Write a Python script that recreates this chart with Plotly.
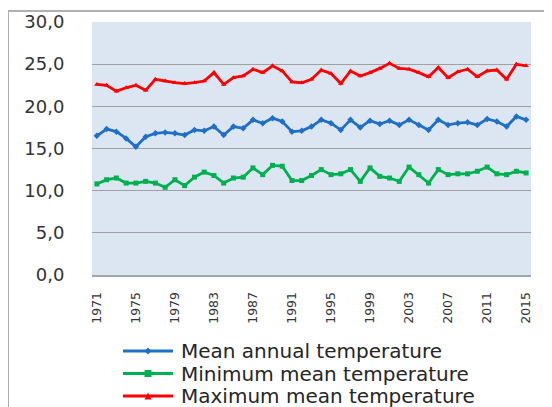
import plotly.graph_objects as go

years = list(range(1971, 2016))

mean_temp = [16.5, 17.3, 17.0, 16.2, 15.2, 16.4, 16.8, 16.9, 16.8, 16.6,
             17.2, 17.1, 17.6, 16.6, 17.6, 17.4, 18.4, 18.0, 18.6, 18.2,
             17.0, 17.1, 17.6, 18.4, 18.0, 17.2, 18.4, 17.5, 18.3, 17.9,
             18.3, 17.8, 18.4, 17.8, 17.2, 18.4, 17.8, 18.0, 18.1, 17.8,
             18.5, 18.2, 17.6, 18.8, 18.4]

min_temp = [10.8, 11.3, 11.5, 10.9, 10.9, 11.1, 10.9, 10.4, 11.3, 10.6,
            11.6, 12.2, 11.8, 10.9, 11.5, 11.6, 12.7, 11.9, 13.0, 12.9,
            11.2, 11.2, 11.8, 12.5, 11.9, 12.0, 12.5, 11.1, 12.7, 11.7,
            11.5, 11.1, 12.8, 11.9, 10.9, 12.5, 11.9, 12.0, 12.0, 12.3,
            12.8, 12.0, 11.9, 12.3, 12.1]

max_temp = [22.6, 22.5, 21.8, 22.2, 22.5, 21.9, 23.2, 23.0, 22.8, 22.7,
            22.8, 23.0, 24.0, 22.6, 23.4, 23.6, 24.4, 24.0, 24.8, 24.2,
            22.9, 22.8, 23.2, 24.3, 23.9, 22.7, 24.2, 23.6, 24.0, 24.5,
            25.1, 24.5, 24.4, 24.0, 23.5, 24.6, 23.4, 24.1, 24.4, 23.5,
            24.2, 24.3, 23.2, 25.0, 24.8]

series_names = ["Mean annual temperature", "Minimum mean temperature", "Maximum mean temperature"]
tick_years = list(range(1971, 2016, 4))
y_ticks = [0, 5, 10, 15, 20, 25, 30]

colors = ["#1f6fc6", "#00b050", "#ff0000"]
symbols = ["diamond", "square", "triangle-up"]

fig = go.Figure()
for name, vals, col, sym in zip(series_names, [mean_temp, min_temp, max_temp], colors, symbols):
    fig.add_trace(go.Scatter(
        x=years, y=vals, name=name, mode="lines+markers",
        line=dict(color=col, width=2.8),
        marker=dict(symbol=sym, size=5, color=col),
        showlegend=False,
    ))

# page has an 8px body margin, so work in page pixels and shift
OFF = 8
W, H = 552 - OFF, 407 - OFF
L, R, T, B = 92, 531, 22, 275          # plot area in page pixels
pw, ph = R - L, B - T

def px(x):
    return (x - L) / pw

def py(y):
    return (B - y) / ph

shapes = [
    dict(type="line", xref="paper", yref="paper",
         x0=px(8), x1=px(8), y0=py(11), y1=py(420),
         line=dict(color="#b0b0b0", width=2)),
    dict(type="line", xref="paper", yref="paper",
         x0=px(8), x1=px(570), y0=py(11), y1=py(11),
         line=dict(color="#b0b0b0", width=2)),
]
annotations = []

# manual legend
leg_y = [351, 373.5, 396]
lx0, lx1, tx = 123, 173, 179
for name, col, sym, yy in zip(series_names, colors, symbols, leg_y):
    shapes.append(dict(type="line", xref="paper", yref="paper",
                       x0=px(lx0), x1=px(lx1), y0=py(yy), y1=py(yy),
                       line=dict(color=col, width=3)))
    cx = (lx0 + lx1) / 2
    s = 3.5
    if sym == "square":
        shapes.append(dict(type="rect", xref="paper", yref="paper",
                           x0=px(cx - s), x1=px(cx + s), y0=py(yy - s), y1=py(yy + s),
                           fillcolor=col, line=dict(width=0)))
    elif sym == "diamond":
        path = "M {a},{b} L {c},{d} L {a},{e} L {f},{d} Z".format(
            a=px(cx), b=py(yy - s), c=px(cx + s), d=py(yy), e=py(yy + s), f=px(cx - s))
        shapes.append(dict(type="path", xref="paper", yref="paper", path=path,
                           fillcolor=col, line=dict(width=0)))
    else:
        path = "M {a},{b} L {c},{d} L {f},{d} Z".format(
            a=px(cx), b=py(yy - s), c=px(cx + s), d=py(yy + s), f=px(cx - s))
        shapes.append(dict(type="path", xref="paper", yref="paper", path=path,
                           fillcolor=col, line=dict(width=0)))
    annotations.append(dict(text=name, xref="paper", yref="paper",
                            x=px(tx), y=py(yy), xanchor="left", yanchor="middle",
                            showarrow=False,
                            font=dict(size=20, color="#262626", family="DejaVu Sans")))

fig.update_layout(
    width=W, height=H,
    margin=dict(l=L - OFF, r=W - (R - OFF), t=T - OFF, b=H - (B - OFF), autoexpand=False),
    paper_bgcolor="white",
    plot_bgcolor="#dce6f2",
    separators=", ",
    font=dict(family="DejaVu Sans", color="#333333"),
    showlegend=False,
    xaxis=dict(
        range=[1970.5, 2015.5],
        tickmode="array", tickvals=tick_years,
        ticktext=[str(y) for y in tick_years],
        tickangle=-90, showgrid=False, zeroline=False,
        showline=True, linecolor="#a6a6a6", linewidth=2,
        ticks="outside", ticklen=10, tickcolor="rgba(0,0,0,0)",
        tickfont=dict(size=12.5, color="#333333", family="DejaVu Sans"),
    ),
    yaxis=dict(
        range=[0, 30], tickmode="array", tickvals=y_ticks,
        tickformat=".1f",
        showgrid=True, gridcolor="#a0a0a0", gridwidth=1,
        zeroline=False, showline=False,
        ticks="outside", ticklen=23, tickcolor="rgba(0,0,0,0)",
        tickfont=dict(size=18, color="#333333", family="DejaVu Sans"),
    ),
    shapes=shapes,
    annotations=annotations,
)

fig.write_html("out.html")
